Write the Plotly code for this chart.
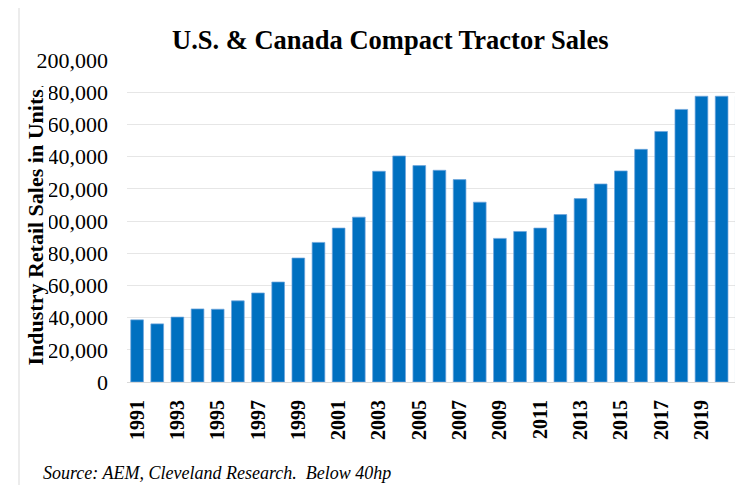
import plotly.graph_objects as go

years = list(range(1991, 2022))
sales = [38600, 36100, 40300, 45400, 45200, 50400, 55300, 62100, 77000, 86700,
         95600, 102400, 130900, 140400, 134400, 131500, 125700, 111700, 89200, 93500,
         95600, 104000, 113900, 123000, 131100, 144500, 155600, 169300, 177500, 177500,
         177500]
year_ticks = list(range(1991, 2022, 2))
y_ticks = list(range(0, 200001, 20000))
y_tick_labels = [f"{v:,}" for v in y_ticks]

title_text = "U.S. & Canada Compact Tractor Sales"
y_title = "Industry Retail Sales in Units"
source_text = "Source: AEM, Cleveland Research.  Below 40hp"

# page is offset by the default 8px body margin; keep the figure inside the viewport
OFF = 8
W, H = 743 - OFF, 493 - 2 * OFF
L, R, T = 127 - OFF, 0, 60 - OFF
B = H - (382 - OFF)
pw, ph = W - L - R, H - T - B

def px(x):
    return (x - OFF - L) / pw

def py(y):
    return (H - B - (y - OFF)) / ph

FONT = "Liberation Serif, Times New Roman, serif"

fig = go.Figure(go.Bar(
    x=years, y=sales,
    marker=dict(color="#0070C0", line=dict(color="rgba(110,165,220,0.9)", width=0.8)),
    width=0.63,
))

fig.update_layout(
    width=W, height=H,
    margin=dict(l=L, r=R, t=T, b=B, pad=0),
    paper_bgcolor="white", plot_bgcolor="white",
    showlegend=False,
    font=dict(family=FONT, color="black"),
    xaxis=dict(
        range=[1990.5, 2021.06],
        tickmode="array", tickvals=year_ticks, ticktext=[str(y) for y in year_ticks],
        tickangle=-90,
        tickfont=dict(family=FONT, size=20, weight="bold", color="black"),
        showgrid=False, zeroline=False, showline=False,
        ticks="", ticklabelstandoff=13,
    ),
    yaxis=dict(
        range=[0, 200000],
        tickmode="array", tickvals=y_ticks, ticktext=y_tick_labels,
        tickfont=dict(family=FONT, size=22, color="black"),
        showgrid=True, gridcolor="#e6e6e6", gridwidth=1,
        zeroline=True, zerolinecolor="#d9d9d9", zerolinewidth=1,
        showline=False, ticks="", ticklabelstandoff=18,
    ),
    shapes=[dict(type="rect", xref="paper", yref="paper",
                 x0=px(19), x1=px(770), y0=py(5), y1=py(530),
                 line=dict(color="#d9d9d9", width=1), layer="below")],
    annotations=[
        dict(text=f"<b>{title_text}</b>", xref="paper", yref="paper",
             x=px(390.5), y=py(40), xanchor="center", yanchor="middle",
             showarrow=False, font=dict(family=FONT, size=26.5, color="black")),
        dict(text=f"<b>{y_title}</b>", xref="paper", yref="paper",
             x=px(35), y=py(227.5), xanchor="center", yanchor="middle",
             textangle=-90, showarrow=False, bgcolor="white", borderpad=1,
             font=dict(family=FONT, size=22, color="black")),
        dict(text=f"<i>{source_text}</i>", xref="paper", yref="paper",
             x=px(41), y=py(473), xanchor="left", yanchor="middle",
             showarrow=False, font=dict(family=FONT, size=18, color="black")),
    ],
)

fig.write_html("out.html")
